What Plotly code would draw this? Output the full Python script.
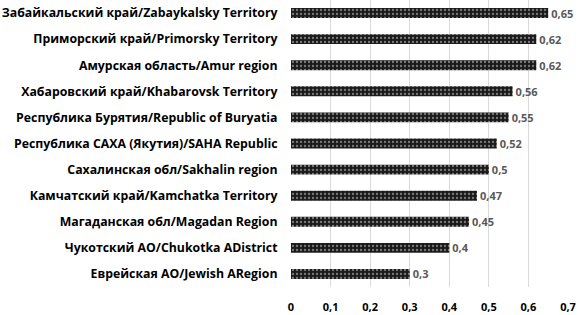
import plotly.graph_objects as go

regions = [
    "Забайкальский край/Zabaykalsky Territory",
    "Приморский край/Primorsky Territory",
    "Амурская область/Amur region",
    "Хабаровский край/Khabarovsk Territory",
    "Республика Бурятия/Republic of Buryatia",
    "Республика САХА (Якутия)/SAHA Republic",
    "Сахалинская обл/Sakhalin region",
    "Камчатский край/Kamchatka Territory",
    "Магаданская обл/Magadan Region",
    "Чукотский АО/Chukotka ADistrict",
    "Еврейская АО/Jewish ARegion",
]
values = [0.65, 0.62, 0.62, 0.56, 0.55, 0.52, 0.5, 0.47, 0.45, 0.4, 0.3]
value_labels = ["0,65", "0,62", "0,62", "0,56", "0,55", "0,52", "0,5", "0,47", "0,45", "0,4", "0,3"]
tick_vals = [0, 0.1, 0.2, 0.3, 0.4, 0.5, 0.6, 0.7]
tick_text = ["0", "0,1", "0,2", "0,3", "0,4", "0,5", "0,6", "0,7"]

fig = go.Figure(go.Bar(
    x=values, y=regions, orientation="h",
    text=value_labels, textposition="outside", constraintext="none",
    textfont=dict(family="Open Sans", size=11, color="#595959", weight="bold"),
    cliponaxis=False,
    marker=dict(color="#1a1a1a", line=dict(width=0),
                pattern=dict(shape=".", fgcolor="#dddddd", bgcolor="#1a1a1a", size=4, solidity=0.25)),
))

fig.update_layout(
    width=578, height=315,
    margin=dict(l=291, r=10, t=0, b=28),
    paper_bgcolor="white", plot_bgcolor="white",
    bargap=0.62,
    showlegend=False,
    font=dict(family="Open Sans", color="black"),
)
fig.update_xaxes(range=[0, 0.7], tickvals=tick_vals, ticktext=tick_text, automargin=False,
                 showgrid=True, gridcolor="#d9d9d9", gridwidth=1, zeroline=False,
                 tickfont=dict(family="Open Sans", size=11, color="black", weight="bold"),
                 ticks="outside", ticklen=10, tickcolor="rgba(0,0,0,0)")
fig.update_yaxes(autorange="reversed", showgrid=False, automargin=False,
                 tickfont=dict(family="Open Sans", size=12.3, color="black", weight="bold"),
                 ticks="outside", ticklen=10, tickcolor="rgba(0,0,0,0)", showline=False)

fig.write_html("out.html", config={"displayModeBar": False},
               post_script="document.body.style.margin='0';document.body.style.overflow='hidden';")
